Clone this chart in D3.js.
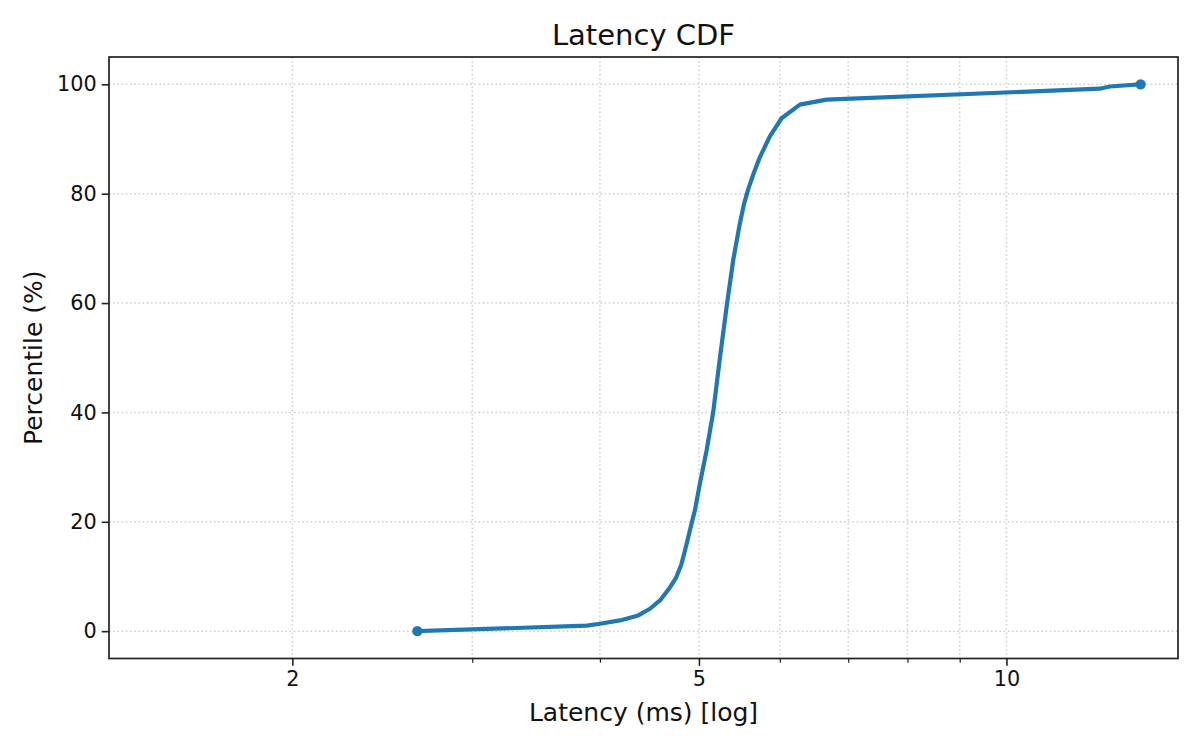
<!DOCTYPE html>
<html>
<head>
<meta charset="utf-8">
<script src="https://cdn.jsdelivr.net/npm/d3@7/dist/d3.min.js"></script>
<style>
  html, body { margin: 0; padding: 0; background: #fff; }
  svg { display: block; font-family: "DejaVu Sans", sans-serif; }
</style>
</head>
<body>
<svg id="chart" width="1200" height="750"></svg>
<script>
// ---- data ----
const latencyMs = [2.651, 3.883, 4.001, 4.185, 4.361, 4.478, 4.580, 4.684, 4.750, 4.806, 4.864, 4.918, 4.955, 5.011, 5.088, 5.164, 5.242, 5.322, 5.402, 5.484, 5.533, 5.587, 5.651, 5.737, 5.867, 6.024, 6.278, 6.667, 12.34, 12.62, 13.53];
const percentile = [0, 1.0, 1.36, 1.96, 2.88, 4.1, 5.62, 8.0, 9.8, 12.2, 16.0, 19.7, 22.1, 27.0, 33.1, 40.1, 49.9, 59.3, 67.9, 74.6, 78.0, 80.8, 83.5, 86.7, 90.5, 93.8, 96.3, 97.2, 99.2, 99.6, 100];
const xMajorTicks = [2, 5, 10];
const xMinorTicks = [3, 4, 6, 7, 8, 9];
const yTicks = [0, 20, 40, 60, 80, 100];
const xDomain = [1.323, 14.72];
const yDomain = [-5, 105];
const titleText = "Latency CDF";
const xLabelText = "Latency (ms) [log]";
const yLabelText = "Percentile (%)";

(function () {
// ---- layout ----
const padL = 109, padR = 1178, padT = 57, padB = 658.5;
const svg = d3.select("#chart");
const x = d3.scaleLog().domain(xDomain).range([padL, padR]);
const y = d3.scaleLinear().domain(yDomain).range([padB, padT]);
const color = "#1f77b4";
const tickFont = "20.8px";

// grid
const grid = svg.append("g").attr("stroke", "#cfcfcf").attr("stroke-width", 1.5)
  .attr("stroke-dasharray", "1.6,2.6").attr("fill", "none");
grid.selectAll("line.vx").data(xMajorTicks.concat(xMinorTicks)).join("line")
  .attr("x1", d => x(d)).attr("x2", d => x(d)).attr("y1", padT).attr("y2", padB);
grid.selectAll("line.hy").data(yTicks).join("line")
  .attr("x1", padL).attr("x2", padR).attr("y1", d => y(d)).attr("y2", d => y(d));

// line
const line = d3.line().x((d, i) => x(latencyMs[i])).y((d, i) => y(percentile[i]));
svg.append("path").datum(latencyMs).attr("d", line)
  .attr("fill", "none").attr("stroke", color).attr("stroke-width", 4.2)
  .attr("stroke-linejoin", "round").attr("stroke-linecap", "square");

// end markers
const ends = [0, latencyMs.length - 1];
svg.selectAll("circle.m").data(ends).join("circle")
  .attr("cx", i => x(latencyMs[i])).attr("cy", i => y(percentile[i]))
  .attr("r", 5.2).attr("fill", color);

// axes
const xAxis = d3.axisBottom(x).tickValues(xMajorTicks).tickFormat(d3.format("d"))
  .tickSize(7.3).tickPadding(5);
const gx = svg.append("g").attr("transform", `translate(0,${padB})`).call(xAxis);
const xMinor = d3.axisBottom(x).tickValues(xMinorTicks).tickFormat("").tickSize(4.2);
const gxm = svg.append("g").attr("transform", `translate(0,${padB})`).call(xMinor);
const yAxis = d3.axisLeft(y).tickValues(yTicks).tickFormat(d3.format("d"))
  .tickSize(7.3).tickPadding(5);
const gy = svg.append("g").attr("transform", `translate(${padL},0)`).call(yAxis);

[gx, gy, gxm].forEach(g => {
  g.select(".domain").remove();
  g.selectAll(".tick line").attr("stroke", "#222").attr("stroke-width", 1.6);
  g.selectAll(".tick text").attr("fill", "#111").style("font-size", tickFont)
    .style("font-family", "DejaVu Sans");
});
gxm.selectAll(".tick line").attr("stroke-width", 1.2);
gx.selectAll(".tick text").attr("dy", "0.75em");

// spines
svg.append("rect").attr("x", padL).attr("y", padT).attr("width", padR - padL)
  .attr("height", padB - padT).attr("fill", "none").attr("stroke", "#222")
  .attr("stroke-width", 1.7);

// title and labels
svg.append("text").attr("x", (padL + padR) / 2).attr("y", 44.5)
  .attr("text-anchor", "middle").style("font-size", "29px").attr("fill", "#111")
  .text(titleText);
svg.append("text").attr("x", (padL + padR) / 2).attr("y", 721)
  .attr("text-anchor", "middle").style("font-size", "25px").attr("fill", "#111")
  .text(xLabelText);
svg.append("text").attr("transform", `translate(42,${(padT + padB) / 2}) rotate(-90)`)
  .attr("text-anchor", "middle").style("font-size", "25px").attr("fill", "#111")
  .text(yLabelText);
})();
</script>
</body>
</html>
